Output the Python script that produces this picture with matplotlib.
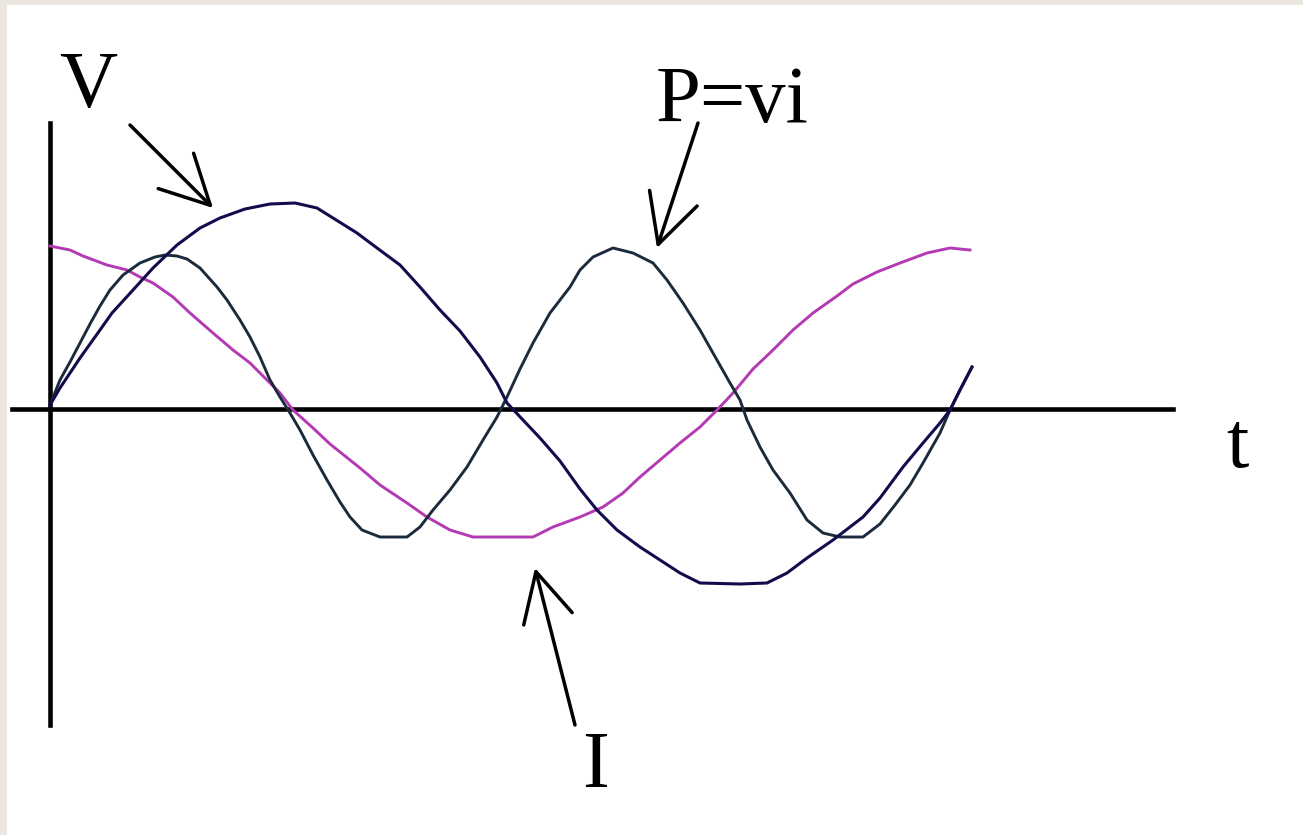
import matplotlib.pyplot as plt

# time axis (arbitrary units) and the three waveforms
t_v = [0, 10, 30, 50, 62, 83, 103, 127, 150, 170, 195, 220, 245, 267, 283, 307, 323, 350, 370, 390,
       410, 430, 447, 457, 473, 490, 510, 530, 547, 567, 590, 610, 630, 650, 690, 717, 737, 757, 783,
       813, 830, 853, 873, 890, 900, 910, 922]
v = [4, 21, 51, 79, 96, 119, 141, 164, 181, 191, 200, 205, 206, 201, 191, 176, 164, 144, 122, 99,
     78, 52, 26, 6, -11, -29, -52, -80, -101, -121, -138, -151, -164, -174, -175, -174, -164, -149, -131,
     -108, -89, -58, -34, -14, -1, 19, 42]

t_p = [0, 10, 20, 30, 40, 50, 60, 73, 90, 105, 115, 127, 137, 150, 167, 177, 190, 200, 210, 220,
       230, 240, 250, 263, 277, 290, 300, 312, 330, 357, 370, 383, 400, 417, 433, 447, 457, 470, 483,
       500, 520, 530, 543, 563, 583, 603, 617, 633, 650, 663, 680, 690, 697, 710, 723, 740, 757, 773,
       790, 813, 830, 845, 860, 873, 890, 900, 910, 922]
p = [4, 29, 47, 66, 85, 103, 119, 134, 146, 152, 154, 153, 150, 141, 122, 109, 89, 72, 52, 29,
     12, -4, -21, -46, -71, -93, -108, -121, -128, -128, -118, -101, -81, -58, -31, -8, 12, 40, 66,
     96, 122, 139, 152, 161, 156, 146, 129, 106, 79, 56, 26, 9, -11, -38, -61, -84, -111, -124,
     -128, -128, -115, -96, -76, -54, -24, -1, 19, 42]

t_i = [0, 20, 33, 57, 77, 90, 103, 123, 140, 163, 183, 200, 217, 230, 243, 263, 280, 290, 310, 330,
       357, 377, 400, 423, 483, 503, 530, 553, 573, 590, 610, 630, 650, 667, 683, 703, 723, 743, 763,
       787, 803, 827, 850, 877, 900, 920]
i = [163, 159, 153, 144, 139, 132, 126, 112, 96, 76, 59, 46, 29, 16, -1, -19, -35, -43, -59, -76,
     -94, -108, -121, -128, -128, -118, -108, -98, -84, -68, -51, -34, -18, -1, 16, 40, 59, 79, 96,
     113, 125, 137, 146, 156, 161, 159]

fig = plt.figure(figsize=(13.03, 8.35), dpi=100, facecolor='#ebe6df')
ax = fig.add_axes([7 / 1303, 0, 1296 / 1303, 830 / 835])
ax.set_facecolor('white')
ax.set_xlim(-43, 1253)
ax.set_ylim(-426, 404)

ax.plot(t_i, i, color='#b43ab4', lw=2.1, solid_joinstyle='round')
ax.plot(t_p, p, color='#1c2b3c', lw=2.1, solid_joinstyle='round')
ax.plot(t_v, v, color='#120c4c', lw=2.2, solid_joinstyle='round')

# axes drawn as spines crossing at the origin
for side in ['top', 'right']:
    ax.spines[side].set_visible(False)
ax.spines['bottom'].set_position(('data', 0))
ax.spines['left'].set_position(('data', 0))
ax.spines['bottom'].set_bounds(-38, 1123)
ax.spines['left'].set_bounds(-316, 286)
for side in ['bottom', 'left']:
    ax.spines[side].set_linewidth(3.3)
    ax.spines[side].set_color('black')
    ax.spines[side].set_zorder(1)
ax.set_xticks([])
ax.set_yticks([])

font = dict(family='Liberation Serif', size=58, color='black')
ax.text(38, 302, 'V', ha='center', va='baseline', **font)
ax.text(606, 287, 'P=vi', ha='left', va='baseline', **font)
ax.text(1187, -58, 't', ha='center', va='baseline', **font)
ax.text(546, -378, 'I', ha='center', va='baseline', **font)

arrow = dict(arrowstyle='->,head_length=3.5,head_width=1.8', mutation_scale=10,
             lw=2.5, color='black', shrinkA=0, shrinkB=0)
ax.annotate('', xy=(163, 201), xytext=(80, 284), arrowprops=arrow)
ax.annotate('', xy=(607, 161), xytext=(648, 286), arrowprops=arrow)
ax.annotate('', xy=(485, -159), xytext=(525, -316), arrowprops=arrow)

fig.savefig('out.png', dpi=100, facecolor=fig.get_facecolor())
